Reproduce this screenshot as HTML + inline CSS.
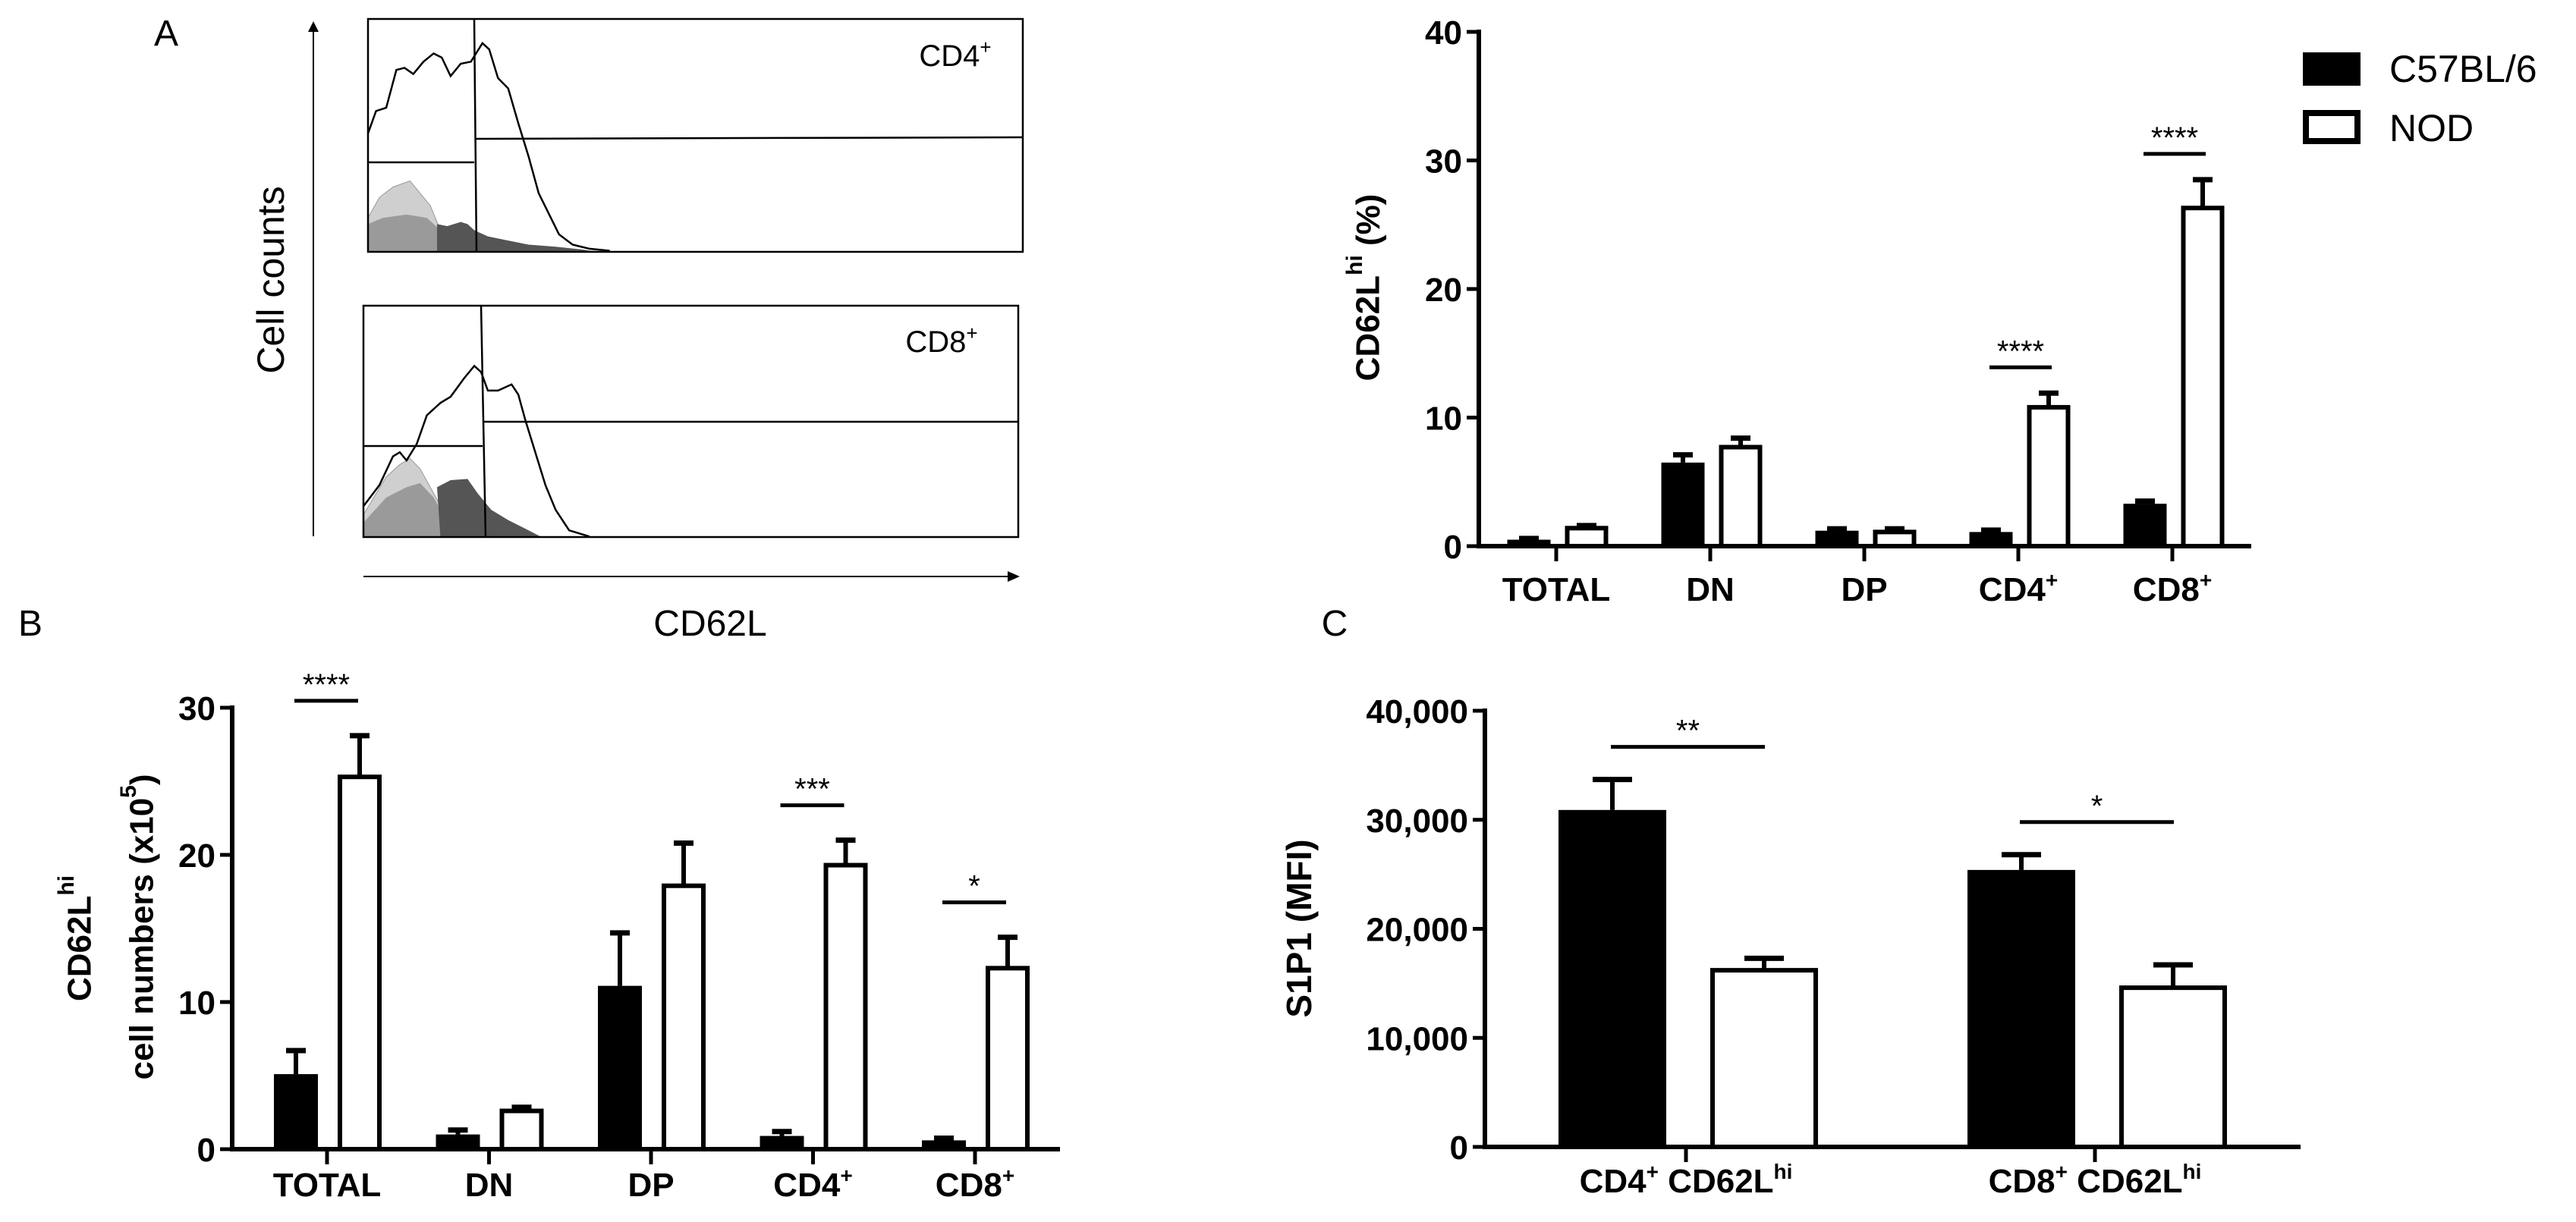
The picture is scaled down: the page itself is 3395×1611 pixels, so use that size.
<!DOCTYPE html>
<html><head><meta charset="utf-8"><style>
html,body{margin:0;padding:0;background:#fff}
svg{display:block}
text{font-family:"Liberation Sans",sans-serif}
.b{font-weight:bold}
</style></head><body>
<svg id="fig" xmlns="http://www.w3.org/2000/svg" width="3395" height="1611" viewBox="0 0 3395 1611">
<rect width="3395" height="1611" fill="#fff"/>
<g>
<text x="219" y="60" font-size="48" text-anchor="middle">A</text>
<line x1="413" y1="707" x2="413" y2="40" stroke="#000" stroke-width="2"/>
<polygon points="406,42 420,42 413,28" fill="#000"/>
<line x1="479" y1="760" x2="1330" y2="760" stroke="#000" stroke-width="2"/>
<polygon points="1328,753 1328,767 1344,760" fill="#000"/>
<text x="357" y="369" font-size="50" text-anchor="middle" dominant-baseline="central" transform="rotate(-90 357 369)">Cell counts</text>
<text x="936" y="838" font-size="48" text-anchor="middle">CD62L</text>
<g transform="scale(0.893,0.542)">
 <path vector-effect="non-scaling-stroke" d="M543,612 L543,530 560,480 580,455 605,440 620,470 635,500 650,560 665,600 675,612Z" fill="#cfcfcf" stroke="#999" stroke-width="1"/>
 <path vector-effect="non-scaling-stroke" d="M543,612 L543,545 565,530 600,522 630,530 650,560 665,600 670,612Z" fill="#9a9a9a"/>
 <path vector-effect="non-scaling-stroke" d="M645,612 L645,545 660,550 680,540 690,545 700,560 720,575 750,585 780,595 820,600 860,607 880,612Z" fill="#555"/>
 <path vector-effect="non-scaling-stroke" d="M543,325 L555,270 570,262 585,170 597,165 610,180 625,150 640,130 652,140 665,185 680,155 695,150 712,105 722,120 735,190 750,215 765,300 780,380 795,470 810,520 825,570 845,595 870,605 900,610" fill="none" stroke="#000" stroke-width="2.5"/>
 <path vector-effect="non-scaling-stroke" d="M537,1307 L537,1250 570,1160 590,1130 605,1115 620,1140 640,1200 660,1260 680,1300 690,1307Z" fill="#cfcfcf" stroke="#999" stroke-width="1"/>
 <path vector-effect="non-scaling-stroke" d="M537,1307 L537,1270 570,1210 600,1185 620,1175 640,1210 660,1270 680,1307Z" fill="#9a9a9a"/>
 <path vector-effect="non-scaling-stroke" d="M650,1307 L645,1185 665,1168 690,1165 705,1200 725,1240 750,1265 780,1290 800,1307Z" fill="#555"/>
 <path vector-effect="non-scaling-stroke" d="M537,1230 L560,1180 580,1110 590,1100 600,1120 615,1080 630,1010 650,980 665,965 685,920 700,890 710,905 720,950 735,950 755,935 765,960 775,1020 790,1100 805,1180 820,1240 840,1290 870,1305" fill="none" stroke="#000" stroke-width="2.5"/>
</g>
<rect x="485" y="25" width="863" height="307" fill="none" stroke="#000" stroke-width="2.5"/>
<line x1="625" y1="25" x2="628" y2="332" stroke="#000" stroke-width="2.5"/>
<line x1="485" y1="214" x2="625" y2="214" stroke="#000" stroke-width="2.5"/>
<line x1="627" y1="183" x2="1348" y2="181" stroke="#000" stroke-width="2.5"/>
<text x="1259" y="87" font-size="40" text-anchor="middle">CD4<tspan font-size="26" dy="-16">+</tspan></text>
<rect x="479" y="403" width="863" height="305" fill="none" stroke="#000" stroke-width="2.5"/>
<line x1="634" y1="402" x2="640" y2="708" stroke="#000" stroke-width="2.5"/>
<line x1="479" y1="588" x2="636" y2="588" stroke="#000" stroke-width="2.5"/>
<line x1="638" y1="556" x2="1342" y2="556" stroke="#000" stroke-width="2.5"/>
<text x="1241" y="464" font-size="40" text-anchor="middle">CD8<tspan font-size="26" dy="-16">+</tspan></text>
</g>
<text x="40" y="838" font-size="48" text-anchor="middle">B</text>
<text x="1759" y="838" font-size="48" text-anchor="middle">C</text>
<g>
<rect x="3035" y="69" width="76" height="44" fill="#000"/>
<text x="3149" y="108" font-size="50">C57BL/6</text>
<rect x="3039" y="149" width="68" height="37" fill="#fff" stroke="#000" stroke-width="8"/>
<text x="3149" y="186" font-size="50">NOD</text>
</g>
<g id="chartTop"></g>
<g id="chartB"></g>
<g id="chartC"></g>
</svg>
<script>
// Top chart: CD62Lhi (%)
const topCats = ["TOTAL","DN","DP","CD4","CD8"];
const topB6 = [0.5, 6.5, 1.2, 1.1, 3.3];
const topB6Err = [0.6, 7.1, 1.35, 1.25, 3.5];
const topNOD = [1.4, 7.7, 1.1, 10.8, 26.3];
const topNODErr = [1.6, 8.4, 1.35, 11.9, 28.5];
const topTicks = [0, 10, 20, 30, 40];
const topSig = [[3,"****"],[4,"****"]];

// Panel B: cell numbers (x10^5)
const bCats = ["TOTAL","DN","DP","CD4","CD8"];
const bB6 = [5.1, 1.0, 11.1, 0.9, 0.6];
const bB6Err = [6.7, 1.3, 14.7, 1.2, 0.75];
const bNOD = [25.3, 2.6, 17.9, 19.3, 12.3];
const bNODErr = [28.1, 2.85, 20.8, 21.0, 14.4];
const bTicks = [0, 10, 20, 30];
const bSig = [[0,"****"],[3,"***"],[4,"*"]];

// Panel C: S1P1 (MFI)
const cCats = ["CD4","CD8"];
const cB6 = [30900, 25400];
const cB6Err = [33700, 26800];
const cNOD = [16200, 14600];
const cNODErr = [17300, 16700];
const cTicks = [0, 10000, 20000, 30000, 40000];
const cTickLabels = ["0","10,000","20,000","30,000","40,000"];
const cSig = [[0,"**"],[1,"*"]];

const NS="http://www.w3.org/2000/svg";
function mk(parent,tag,attrs){const e=document.createElementNS(NS,tag);for(const k in attrs)e.setAttribute(k,attrs[k]);parent.appendChild(e);return e;}

function drawChart(g,cfg){
  const y=v=>cfg.y0-(v-0)/(cfg.vmax)*(cfg.y0-cfg.yTop);
  const xc=i=>cfg.x0c+i*cfg.step;
  const ya=mk(g,'line',{x1:cfg.ax,y1:y(cfg.vmax)-3,x2:cfg.ax,y2:cfg.y0+3,stroke:'#000','stroke-width':6});
  
  
  const xa=mk(g,'line',{x1:cfg.ax-3,y1:cfg.y0,x2:cfg.axEnd,y2:cfg.y0,stroke:'#000','stroke-width':6});
  
  
  cfg.ticks.forEach((t,i)=>{
    mk(g,'line',{x1:cfg.ax-16,y1:y(t),x2:cfg.ax,y2:y(t),stroke:'#000','stroke-width':5});
    const tl=mk(g,'text',{x:cfg.ax-22,y:y(t)+16,'font-size':44,'text-anchor':'end','class':'b'});
    tl.textContent=cfg.tickLabels?cfg.tickLabels[i]:String(t);
    
    
  });
  cfg.cats.forEach((c,i)=>{
    const cx=xc(i);
    mk(g,'line',{x1:cx,y1:cfg.y0,x2:cx,y2:cfg.y0+20,stroke:'#000','stroke-width':5});
    const lb=mk(g,'text',{x:cx,y:cfg.labY,'font-size':44,'text-anchor':'middle','class':'b'});
    if(c==="CD4"||c==="CD8"){
      lb.textContent=c;
      const sp=mk(lb,'tspan',{'font-size':28,dy:-18});sp.textContent='+';
      if(cfg.suffix){const s2=mk(lb,'tspan',{dy:18});s2.textContent=' CD62L';const s3=mk(lb,'tspan',{'font-size':28,dy:-18});s3.textContent='hi';}
    } else lb.textContent=c;
    
    
    [[cfg.b6[i],cfg.b6e[i],cx+cfg.offB],[cfg.nod[i],cfg.node[i],cx+cfg.offN]].forEach(([v,e,bx])=>{
      mk(g,'line',{x1:bx,y1:y(v),x2:bx,y2:y(e),stroke:'#000','stroke-width':6});
      mk(g,'line',{x1:bx-cfg.cap,y1:y(e),x2:bx+cfg.cap,y2:y(e),stroke:'#000','stroke-width':7});
    });
    const bb=mk(g,'rect',{x:cx+cfg.offB-cfg.bw/2,y:y(cfg.b6[i]),width:cfg.bw,height:cfg.y0-y(cfg.b6[i]),fill:'#000'});
    
    
    const nb=mk(g,'rect',{x:cx+cfg.offN-cfg.bw/2+3,y:y(cfg.nod[i]),width:cfg.bw-6,height:cfg.y0-y(cfg.nod[i]),fill:'#fff',stroke:'#000','stroke-width':6});
    
    
  });
  cfg.sig.forEach(([i,s])=>{
    const cx=xc(i);
    const top=Math.max(cfg.b6e[i],cfg.node[i]);
    const ly=y(top)-cfg.sigGap;
    mk(g,'line',{x1:cx+cfg.sigL,y1:ly,x2:cx+cfg.sigR,y2:ly,stroke:'#000','stroke-width':5});
    const st=mk(g,'text',{x:cx+(cfg.sigL+cfg.sigR)/2,y:ly-8,'font-size':40,'text-anchor':'middle'});
    st.textContent=s;
    
    
  });
}

drawChart(document.getElementById('chartTop'),{cats:topCats,b6:topB6,b6e:topB6Err,nod:topNOD,node:topNODErr,ticks:topTicks,sig:topSig,
  vmax:40,y0:720,yTop:42,ax:1949,axEnd:2967,x0c:2051,step:203,offB:-36,offN:40,bw:57,cap:13,labY:792,sigGap:34,sigL:-38,sigR:44});
drawChart(document.getElementById('chartB'),{cats:bCats,b6:bB6,b6e:bB6Err,nod:bNOD,node:bNODErr,ticks:bTicks,sig:bSig,
  vmax:30,y0:1515,yTop:933,ax:306,axEnd:1397,x0c:431,step:213.5,offB:-41,offN:43,bw:58,cap:13,labY:1577,sigGap:46,sigL:-43,sigR:41});
drawChart(document.getElementById('chartC'),{cats:cCats,b6:cB6,b6e:cB6Err,nod:cNOD,node:cNODErr,ticks:cTicks,tickLabels:cTickLabels,sig:cSig,suffix:true,
  vmax:40000,y0:1512,yTop:937,ax:1957,axEnd:3032,x0c:2222,step:539,offB:-97,offN:103,bw:142,cap:26,labY:1572,sigGap:43,sigL:-99,sigR:104});

const svg=document.getElementById('fig');
let t=mk(svg,'text',{x:1803,y:379,'font-size':44,'text-anchor':'middle','dominant-baseline':'central','class':'b',transform:'rotate(-90 1803 379)'});
t.innerHTML='CD62L<tspan font-size="30" dy="-18">hi</tspan><tspan dy="18"> (%)</tspan>';


t=mk(svg,'text',{x:105,y:1237,'font-size':44,'text-anchor':'middle','dominant-baseline':'central','class':'b',transform:'rotate(-90 105 1237)'});
t.innerHTML='CD62L<tspan font-size="30" dy="-18">hi</tspan>';


t=mk(svg,'text',{x:187,y:1222,'font-size':44,'text-anchor':'middle','dominant-baseline':'central','class':'b',transform:'rotate(-90 187 1222)'});
t.innerHTML='cell numbers (x10<tspan font-size="30" dy="-18">5</tspan><tspan dy="18">)</tspan>';


t=mk(svg,'text',{x:1712,y:1224,'font-size':46,'text-anchor':'middle','dominant-baseline':'central','class':'b',transform:'rotate(-90 1712 1224)'});
t.textContent='S1P1 (MFI)';


</script>
</body></html>
